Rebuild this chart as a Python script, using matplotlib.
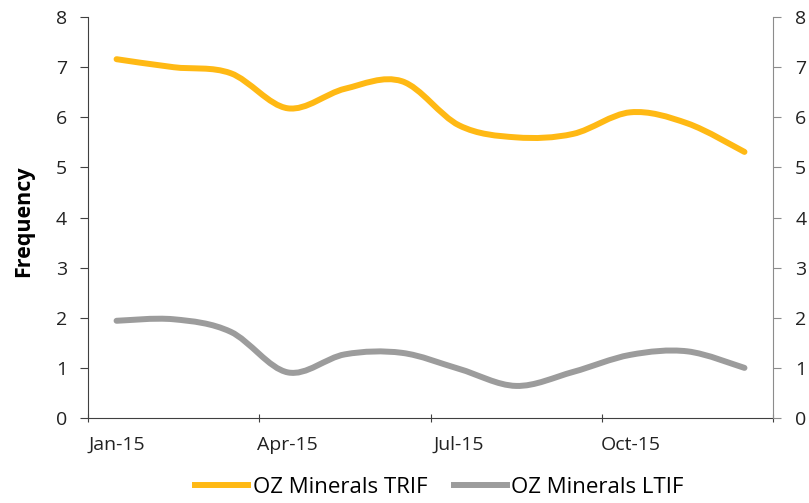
import numpy as np
import matplotlib.pyplot as plt
from matplotlib.path import Path
from matplotlib.patches import PathPatch
from matplotlib.lines import Line2D

months = ['Jan-15', 'Feb-15', 'Mar-15', 'Apr-15', 'May-15', 'Jun-15',
          'Jul-15', 'Aug-15', 'Sep-15', 'Oct-15', 'Nov-15', 'Dec-15']
trif = [7.16, 7.0, 6.88, 6.18, 6.57, 6.72, 5.84, 5.6, 5.67, 6.1, 5.88, 5.31]
ltif = [1.94, 1.97, 1.72, 0.91, 1.27, 1.30, 0.98, 0.64, 0.92, 1.26, 1.33, 1.0]
tick_labels = ['Jan-15', 'Apr-15', 'Jul-15', 'Oct-15']

yellow = '#FFB914'
grey = '#9C9C9C'

plt.rcParams['font.family'] = ['Open Sans', 'DejaVu Sans']


def smooth_path(x, y):
    # excel-style smoothed line: cubic bezier through each point
    x = np.asarray(x, float)
    y = np.asarray(y, float)
    n = len(x)
    verts = [(x[0], y[0])]
    codes = [Path.MOVETO]
    for i in range(n - 1):
        p0 = np.array([x[max(i - 1, 0)], y[max(i - 1, 0)]])
        p1 = np.array([x[i], y[i]])
        p2 = np.array([x[i + 1], y[i + 1]])
        p3 = np.array([x[min(i + 2, n - 1)], y[min(i + 2, n - 1)]])
        c1 = p1 + (p2 - p0) / 6.0
        c2 = p2 - (p3 - p1) / 6.0
        verts += [tuple(c1), tuple(c2), tuple(p2)]
        codes += [Path.CURVE4] * 3
    return Path(verts, codes)


fig = plt.figure(figsize=(8.09, 5.03), dpi=100)
ax = fig.add_axes([0.1088, 0.169, 0.8467, 0.797])
xs = np.arange(len(months))

for vals, col in [(trif, yellow), (ltif, grey)]:
    ax.add_patch(PathPatch(smooth_path(xs, vals), facecolor='none',
                           edgecolor=col, lw=4.3, capstyle='round',
                           joinstyle='round'))

ax.set_xlim(-0.5, 11.5)
ax.set_ylim(0, 8)
ax.set_yticks(range(0, 9))

# ticks between months, labels centred on month
ax.set_xticks([-0.5, 2.5, 5.5, 8.5, 11.5])
ax.set_xticklabels([])
ax.set_xticks([0, 3, 6, 9], minor=True)
ax.set_xticklabels(tick_labels, minor=True)
ax.tick_params(axis='x', which='minor', length=0, pad=13, labelsize=14,
               colors='#222222')
ax.tick_params(axis='x', which='major', length=6, color='#404040',
               direction='inout')
ax.tick_params(axis='y', length=6, color='#404040', labelsize=14,
               labelcolor='#222222', pad=9)

for s in ['top', 'right']:
    ax.spines[s].set_visible(False)
ax.spines['left'].set_color('#404040')
ax.spines['bottom'].set_color('#404040')

ax.set_ylabel('Frequency', fontsize=15.5, fontweight='bold')
ax.yaxis.set_label_coords(-0.078, 0.49)

ax2 = ax.twinx()
ax2.set_ylim(0, 8)
ax2.set_yticks(range(0, 9))
for s in ['top', 'left', 'bottom']:
    ax2.spines[s].set_visible(False)
ax2.spines['right'].set_color('#8C8C8C')
ax2.tick_params(axis='y', length=6, color='#8C8C8C', labelsize=14,
                labelcolor='#222222', pad=10)

handles = [Line2D([], [], color=yellow, lw=4.3),
           Line2D([], [], color=grey, lw=4.3)]
fig.legend(handles, ['OZ Minerals TRIF', 'OZ Minerals LTIF'],
           loc='lower center', bbox_to_anchor=(0.543, -0.03), ncol=2,
           frameon=False, fontsize=16, handlelength=2.4, handletextpad=0.2,
           columnspacing=1.2)

fig.savefig('out.png', dpi=100)
